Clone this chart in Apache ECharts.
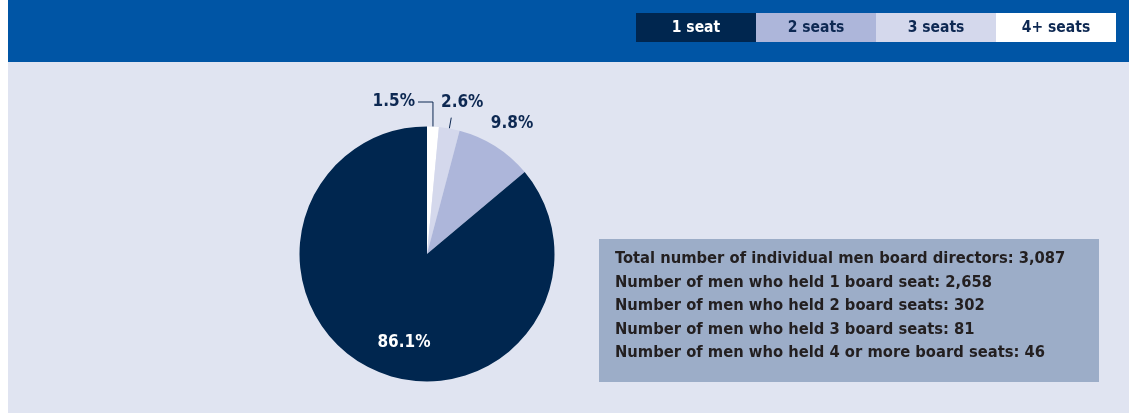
<!DOCTYPE html>
<html>
<head>
<meta charset="utf-8">
<script src="https://cdn.jsdelivr.net/npm/echarts@6/dist/echarts.min.js"></script>
<style>
  html, body { margin: 0; padding: 0; background: #fff; }
  #chart { width: 1129px; height: 413px; }
</style>
</head>
<body>
<div id="chart"></div>
<script>
// legend order (as in the header) and the counts behind the pie
const categories = ['1 seat', '2 seats', '3 seats', '4+ seats']
const counts = [2658, 302, 81, 46]
const colors = ['#00264f', '#adb6da', '#d4d8ec', '#ffffff']
const boxLines = [
  'Total number of individual men board directors: ',
  'Number of men who held 1 board seat: ',
  'Number of men who held 2 board seats: ',
  'Number of men who held 3 board seats: ',
  'Number of men who held 4 or more board seats: '
]

const FONT = '"DejaVu Sans Condensed", "Liberation Sans Narrow", sans-serif'
const NAVY = '#0d2852'
const cx = 427, cy = 254, r = 127.5

let total = counts.reduce((a, b) => a + b, 0)
let fmt = n => n.toLocaleString('en-US')
let boxValues = [total].concat(counts)

// pie runs clockwise from 12 o'clock starting with the smallest group
let pieData = []
for (let i = categories.length - 1; i >= 0; i--) {
  pieData.push({ name: categories[i], value: counts[i], itemStyle: { color: colors[i] } })
}

// mid angle of a slice (radians, clockwise from top)
function midAngle (idx) {
  let before = 0
  for (let k = 0; k < idx; k++) before += pieData[k].value
  return (before + pieData[idx].value / 2) / total * Math.PI * 2
}
function onCircle (a, rad) {
  return [cx + rad * Math.sin(a), cy - rad * Math.cos(a)]
}

let graphic = [
  { type: 'rect', shape: { x: 8, y: 62, width: 1121, height: 351 }, style: { fill: '#e0e4f1' }, z: -10 },
  { type: 'rect', shape: { x: 8, y: 0, width: 1121, height: 62 }, style: { fill: '#0055a5' }, z: -10 },
  { type: 'rect', shape: { x: 599, y: 239, width: 500, height: 143 }, style: { fill: '#9cadc8' } }
]
// header legend boxes
categories.forEach(function (c, i) {
  graphic.push({
    type: 'rect',
    shape: { x: 636 + i * 120, y: 13, width: 120, height: 29 },
    style: { fill: colors[i] }
  })
  graphic.push({
    type: 'text',
    x: 696 + i * 120,
    y: 28,
    style: {
      text: c,
      fill: i === 0 ? '#ffffff' : NAVY,
      font: 'bold 15.5px ' + FONT,
      align: 'center',
      verticalAlign: 'middle'
    }
  })
})
// summary box text
boxLines.forEach(function (t, i) {
  graphic.push({
    type: 'text',
    x: 615,
    y: 259 + i * 23.5,
    style: {
      text: t + fmt(boxValues[i]),
      fill: '#231f20',
      font: 'bold 16.4px ' + FONT,
      verticalAlign: 'middle'
    }
  })
})

let chart = echarts.init(document.getElementById('chart'))
chart.setOption({
  animation: false,
  graphic: graphic,
  series: [{
    type: 'pie',
    center: [cx, cy],
    radius: r,
    startAngle: 90,
    clockwise: true,
    percentPrecision: 1,
    silent: true,
    data: pieData,
    label: {
      formatter: '{d}%',
      color: NAVY,
      fontFamily: FONT,
      fontWeight: 'bold',
      fontSize: 17
    },
    labelLine: {
      show: true,
      lineStyle: { color: NAVY, width: 1 }
    },
    labelLayout: function (p) {
      let i = p.dataIndex
      let a = midAngle(i)
      if (i === 0) {
        let e = onCircle(a, r)
        return {
          x: 415, y: 102, align: 'right', verticalAlign: 'middle',
          labelLinePoints: [e, [e[0], 102], [418, 102]]
        }
      }
      if (i === 1) {
        return {
          x: 441, y: 103, align: 'left', verticalAlign: 'middle',
          labelLinePoints: [onCircle(a, r), onCircle(a, r + 11), onCircle(a, r + 11)]
        }
      }
      if (i === 2) return { x: 512, y: 124, align: 'center', verticalAlign: 'middle' }
      return { x: 404, y: 343, align: 'center', verticalAlign: 'middle' }
    }
  }]
})
// inner label of the big slice is white, and only the two smallest get guide lines
chart.setOption({
  series: [{
    data: pieData.map(function (d, i) {
      let o = Object.assign({}, d)
      if (i >= 2) o.labelLine = { show: false }
      if (i === 3) o.label = { color: '#ffffff' }
      return o
    })
  }]
})
</script>
</body>
</html>
